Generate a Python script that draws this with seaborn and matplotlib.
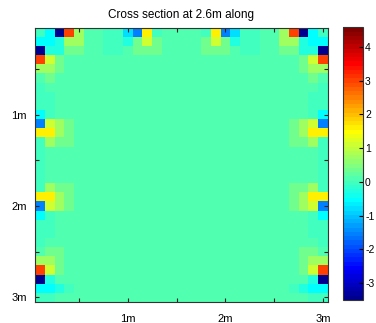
import numpy as np
import pandas as pd
import matplotlib
matplotlib.use("Agg")
import matplotlib.pyplot as plt
from matplotlib.colors import ListedColormap
import seaborn as sns

# colour level codes (value of each code)
levels = {
    ".": 0.15,   # background mint
    "t": 0.0,    # teal-mint
    "q": -0.25,  # aqua
    "c": -0.55,  # cyan
    "C": -0.8,   # deeper cyan
    "b": -1.5,   # blue
    "D": -3.5,   # dark blue
    "R": 3.0,    # red-orange
    "Y": 1.55,   # yellow
    "y": 1.1,    # yellow-green
    "g": 0.7,    # light green
    "m": 0.4,    # mint green
}

# 30 x 30 cells, one string per row (top to bottom)
rows = [
    "tcDRg..ttCbYt....tYbCtt..gRDct",
    "ccqgg..ttqmym....mymqtt..ggqcc",
    "Dqqmm..tt.mmm....mmm.tt..mmqqD",
    "Rym" + "." * 24 + "myR",
    "ggm" + "." * 24 + "mgg",
    ".m" + "." * 26 + "m.",
    "t" + "." * 28 + "t",
    "tt" + "." * 26 + "tt",
    "tt" + "." * 26 + "tt",
    "ct" + "." * 26 + "tc",
    "bygm" + "." * 22 + "mgyb",
    "YYgm" + "." * 22 + "mgYY",
    "tgmm" + "." * 22 + "mmgt",
    "t" + "." * 28 + "t",
    "t" + "." * 28 + "t",
    "t" + "." * 28 + "t",
    "t" + "." * 28 + "t",
    "tgmm" + "." * 22 + "mmgt",
    "YYgm" + "." * 22 + "mgYY",
    "bygm" + "." * 22 + "mgyb",
    "ct" + "." * 26 + "tc",
    "tt" + "." * 26 + "tt",
    "tt" + "." * 26 + "tt",
    "t" + "." * 28 + "t",
    ".mm" + "." * 24 + "mm.",
    "ggm" + "." * 24 + "mgg",
    "Rym" + "." * 24 + "myR",
    "Dq" + "." * 26 + "qD",
    "ccqt" + "." * 22 + "tqcc",
    "tt" + "." * 26 + "tt",
]

xtick_labels = ["", "1m", "", "2m", "", "3m"]
ytick_labels = ["", "1m", "", "2m", "", "3m"]
cbar_ticks = [-3, -2, -1, 0, 1, 2, 3, 4]
title = "Cross section at 2.6m along"

grid = pd.DataFrame([[levels[ch] for ch in r] for r in rows])

# MATLAB style jet(64)
x = np.arange(1, 65) / 64
jet64 = ListedColormap(np.stack([
    np.clip(1.5 - np.abs(4 * x - 3), 0, 1),
    np.clip(1.5 - np.abs(4 * x - 2), 0, 1),
    np.clip(1.5 - np.abs(4 * x - 1), 0, 1),
], axis=1))

plt.rcParams["font.family"] = ["Liberation Sans", "DejaVu Sans"]
plt.rcParams["axes.unicode_minus"] = False

fig = plt.figure(figsize=(3.76, 3.23), dpi=100)
ax = fig.add_axes([35 / 376, 1 - 302 / 323, 293 / 376, 274.3 / 323])
cax = fig.add_axes([343 / 376, 1 - 300 / 323, 20 / 376, 272.7 / 323])

sns.heatmap(grid, ax=ax, cbar_ax=cax, cmap=jet64, vmin=-3.5, vmax=4.58,
            xticklabels=False, yticklabels=False)

ticks = np.arange(4.5, 30, 5)
ax.set_xticks(ticks)
ax.set_xticklabels(xtick_labels)
ax.set_yticks(ticks)
ax.set_yticklabels(ytick_labels)
ax.tick_params(direction="in", top=True, right=True, length=3, width=0.8,
               labelsize=8, color="#222222")
ax.tick_params(axis="x", pad=9)
ax.tick_params(axis="y", pad=6)
for s in ax.spines.values():
    s.set_visible(True)
    s.set_color("#333333")
    s.set_linewidth(0.8)
ax.set_title(title, fontsize=8.5, pad=7)

cbar = ax.collections[0].colorbar
cbar.set_ticks(cbar_ticks)
cbar.ax.tick_params(direction="in", length=3, width=0.8, labelsize=7.5, pad=1.5)
cbar.outline.set_edgecolor("#333333")
cbar.outline.set_linewidth(0.8)

fig.savefig("out.png", dpi=100)
